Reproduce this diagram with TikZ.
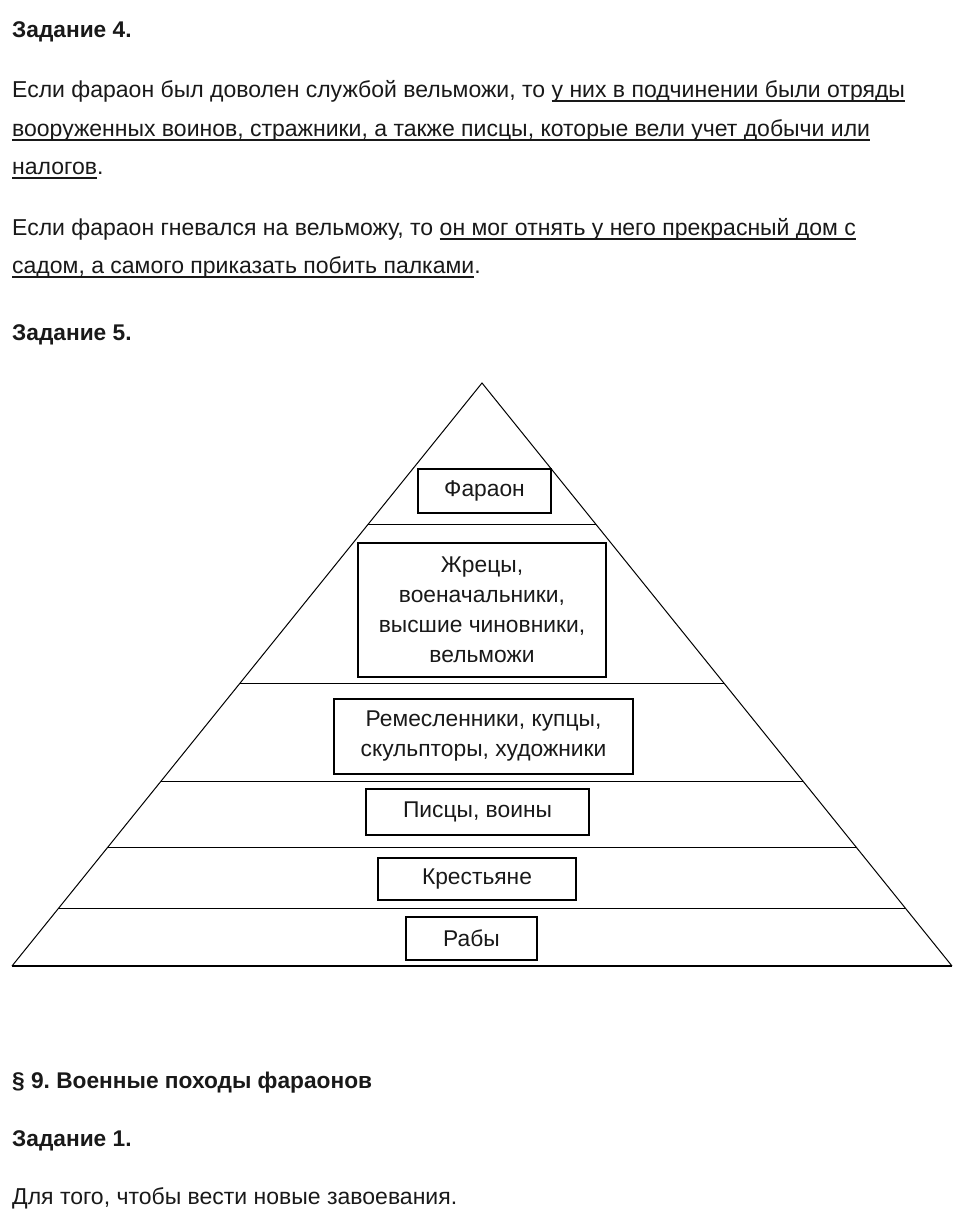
\documentclass[tikz,border=0pt]{standalone}
\usepackage{fontspec}
\setmainfont{Liberation Sans}
\usetikzlibrary{calc}
\frenchspacing
\newcommand{\ulin}[1]{{\setbox0=\hbox{#1}\rlap{\vrule width\wd0 height -2.5pt depth 4.5pt}\box0}}
\tikzset{%
  % Specifications for style of nodes:
     textline/.style = {anchor=base west, inner sep=0pt, text=black!90,
                        font=\fontsize{23}{30}\selectfont},
      heading/.style = {textline, font=\fontsize{22.7}{30}\selectfont\bfseries},
        level/.style = {rectangle, draw=black, line width=1.6pt, align=center,
                        inner sep=0pt, text=black!90,
                        font=\fontsize{22.8}{30}\selectfont},
}
\begin{document}
\begin{tikzpicture}[x=1pt, y=-1pt]
  \useasboundingbox (0,0) rectangle (965,1223);
  \fill[white] (0,0) rectangle (965,1223);
  % Text above the pyramid
  \node (task4)  [heading]  at (12,38)    {Задание 4.};
  \node (line1)  [textline] at (12,97.5)  {Если фараон был доволен службой вельможи, то \ulin{у них в подчинении были отряды}};
  \node (line2)  [textline] at (12,136.5) {\ulin{вооруженных воинов, стражники, а также писцы, которые вели учет добычи или}};
  \node (line3)  [textline] at (12,174.5) {\ulin{налогов}.};
  \node (line4)  [textline] at (12,235.5) {Если фараон гневался на вельможу, то \ulin{он мог отнять у него прекрасный дом с}};
  \node (line5)  [textline] at (12,273.5) {\ulin{садом, а самого приказать побить палками}.};
  \node (task5)  [heading]  at (12,340)   {Задание 5.};
  % Pyramid outline and layers
  \coordinate (apex)  at (482,383);
  \coordinate (baseL) at (12,966);
  \coordinate (baseR) at (952,966);
  \draw[line width=1pt] (baseL) -- (apex) -- (baseR);
  \draw[line width=2pt] (baseL) -- (baseR);
  \draw[line width=1pt] ($(apex)!0.242!(baseL)$) -- ($(apex)!0.242!(baseR)$);
  \draw[line width=1pt] ($(apex)!0.515!(baseL)$) -- ($(apex)!0.515!(baseR)$);
  \draw[line width=1pt] ($(apex)!0.683!(baseL)$) -- ($(apex)!0.683!(baseR)$);
  \draw[line width=1pt] ($(apex)!0.796!(baseL)$) -- ($(apex)!0.796!(baseR)$);
  \draw[line width=1pt] ($(apex)!0.902!(baseL)$) -- ($(apex)!0.902!(baseR)$);
  % Boxes of the layers
  \node (pharaoh)  [level, minimum width=133, minimum height=44]  at (484.5,491)  {Фараон};
  \node (priests)  [level, minimum width=248, minimum height=134] at (482,610)    {Жрецы,\\ военачальники,\\ высшие чиновники,\\ вельможи};
  \node (artisans) [level, minimum width=299, minimum height=75]  at (483.5,736.5) {Ремесленники, купцы,\\ скульпторы, художники};
  \node (scribes)  [level, minimum width=223, minimum height=46]  at (477.5,812)  {Писцы, воины};
  \node (peasants) [level, minimum width=198, minimum height=42]  at (477,879)    {Крестьяне};
  \node (slaves)   [level, minimum width=131, minimum height=43]  at (471.5,938.5) {Рабы};
  % Text below the pyramid
  \node (para9)  [heading]  at (12,1088)  {§ 9. Военные походы фараонов};
  \node (task1)  [heading]  at (12,1146)  {Задание 1.};
  \node (answer) [textline] at (12,1204)  {Для того, чтобы вести новые завоевания.};
\end{tikzpicture}
\end{document}
